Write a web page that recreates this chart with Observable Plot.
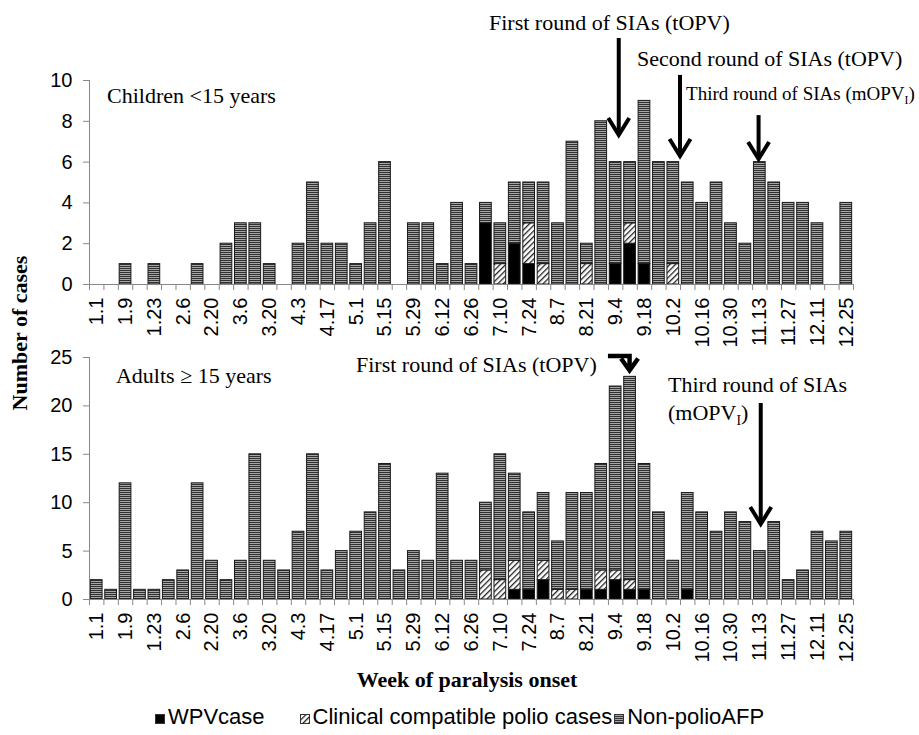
<!DOCTYPE html>
<html>
<head>
<meta charset="utf-8">
<script src="https://cdn.jsdelivr.net/npm/d3@7"></script>
<script src="https://cdn.jsdelivr.net/npm/@observablehq/plot@0.6"></script>
<style>
  body { margin: 0; background: #fff; }
  #wrap { position: relative; width: 919px; height: 735px; overflow: hidden; font-family: "Liberation Sans", Arial, sans-serif; }
  #top, #bottom, #overlay { position: absolute; left: 0; }
  #top { top: 0; }
  #bottom { top: 344px; }
  #overlay { top: 0; pointer-events: none; }
  #legend { position: absolute; left: 155px; top: 706px; font-size: 22px; line-height: 22px; white-space: nowrap; color: #000; }
  #legend span.item { display: inline-block; }
  #legend svg { vertical-align: baseline; margin-right: 3px; }
</style>
</head>
<body>
<svg width="0" height="0" style="position:absolute">
  <defs>
    <pattern id="np" width="4" height="2" patternUnits="userSpaceOnUse">
      <rect width="4" height="2" fill="#a6a6a6"></rect>
      <rect width="4" height="1" fill="#303030"></rect>
    </pattern>
    <pattern id="hatch" width="4" height="4" patternUnits="userSpaceOnUse" patternTransform="rotate(45)">
      <rect width="4" height="4" fill="#fff"></rect>
      <rect width="1.3" height="4" fill="#222"></rect>
    </pattern>
  </defs>
</svg>
<div id="wrap">
  <div id="top"></div>
  <div id="bottom"></div>
  <svg id="overlay" width="919" height="735"></svg>
  <div id="legend"></div>
</div>
<script>
// ---- data ----
const weeks = ["1.1","1.2","1.9","1.16","1.23","1.30","2.6","2.13","2.20","2.27","3.6","3.13","3.20","3.27","4.3","4.10","4.17","4.24","5.1","5.8","5.15","5.22","5.29","6.5","6.12","6.19","6.26","7.3","7.10","7.17","7.24","7.31","8.7","8.14","8.21","8.28","9.4","9.11","9.18","9.25","10.2","10.9","10.16","10.23","10.30","11.6","11.13","11.20","11.27","12.4","12.11","12.18","12.25"];

const types = ["WPVcase", "Clinical compatible polio cases", "Non-polioAFP"];

// Children < 15 years
const childWPV  = [0,0,0,0,0,0,0,0,0,0, 0,0,0,0,0,0,0,0,0,0, 0,0,0,0,0,0,0,3,0,2, 1,0,0,0,0,0,1,2,1,0, 0,0,0,0,0,0,0,0,0,0, 0,0,0];
const childClin = [0,0,0,0,0,0,0,0,0,0, 0,0,0,0,0,0,0,0,0,0, 0,0,0,0,0,0,0,0,1,0, 2,1,0,0,1,0,0,1,0,0, 1,0,0,0,0,0,0,0,0,0, 0,0,0];
const childNP   = [0,0,1,0,1,0,0,1,0,2, 3,3,1,0,2,5,2,2,1,3, 6,0,3,3,1,4,1,1,2,3, 2,4,3,7,1,8,5,3,8,6, 5,5,4,5,3,2,6,5,4,4, 3,0,4];

// Adults >= 15 years
const adultWPV  = [0,0,0,0,0,0,0,0,0,0, 0,0,0,0,0,0,0,0,0,0, 0,0,0,0,0,0,0,0,0,1, 1,2,0,0,1,1,2,1,1,0, 0,1,0,0,0,0,0,0,0,0, 0,0,0];
const adultClin = [0,0,0,0,0,0,0,0,0,0, 0,0,0,0,0,0,0,0,0,0, 0,0,0,0,0,0,0,3,2,3, 0,2,1,1,0,2,1,1,0,0, 0,0,0,0,0,0,0,0,0,0, 0,0,0];
const adultNP   = [2,1,12,1,1,2,3,12,4,2, 4,15,4,3,7,15,3,5,7,9, 14,3,5,4,13,4,4,7,13,9, 8,7,5,10,10,11,19,21,13,9, 4,10,9,7,9,8,5,8,2,3, 7,6,7];

const yTicksTop = [0, 2, 4, 6, 8, 10];
const yTicksBottom = [0, 5, 10, 15, 20, 25];

// ---- styles ----
const fills = ["#000", "url(#hatch)", "url(#np)"];
const serif = "'Liberation Serif', 'Times New Roman', serif";

function toRows(wpv, clin, np) {
  const out = [];
  weeks.forEach((w, i) => {
    [wpv[i], clin[i], np[i]].forEach((v, k) => {
      if (v > 0) out.push({i, week: w, type: types[k], value: v});
    });
  });
  return out;
}

function panel(data, yTicks, height, marginTop, marginBottom) {
  const labelPos = weeks.map((w, i) => i).filter(i => i % 2 === 0).map(i => i + 0.5);
  return Plot.plot({
    width: 919, height, marginLeft: 89, marginRight: 66, marginTop, marginBottom,
    style: {fontFamily: "'Liberation Sans', Arial, sans-serif", fontSize: "20px", color: "#000", background: "transparent", overflow: "visible"},
    x: {type: "linear", domain: [0, weeks.length], label: null},
    y: {domain: [0, d3.max(yTicks)], label: null},
    color: {type: "ordinal", domain: types, range: fills},
    marks: [
      Plot.rectY(data, {x: "i", interval: 1, y: "value", fill: "type", stroke: "#1a1a1a", strokeWidth: 1, insetLeft: 1.35, insetRight: 1.35}),
      Plot.ruleX([0], {stroke: "#888"}),
      Plot.ruleY([0], {stroke: "#888"}),
      Plot.axisY({ticks: yTicks, tickSize: 6, tickPadding: 11, stroke: "#888", fill: "#000", label: null, fontSize: 20}),
      Plot.axisX({ticks: d3.range(0, weeks.length + 1), tickSize: 6, tickFormat: () => "", stroke: "#888", label: null}),
      Plot.axisX({ticks: labelPos, tickFormat: v => weeks[Math.round(v - 0.5)], tickRotate: -90, tickSize: 0, tickPadding: 13, fill: "#000", label: null, fontSize: 20})
    ]
  });
}

function addText(g, x, y, parts, size, weight) {
  const t = g.append("text").attr("x", x).attr("y", y).attr("text-anchor", "start")
    .style("font-family", serif).style("font-size", size + "px").style("font-weight", weight || "normal").attr("fill", "#000");
  parts.forEach(p => {
    const s = t.append("tspan").text(p.text);
    if (p.sub) s.attr("dy", size * 0.22).style("font-size", (size * 0.62) + "px");
    if (p.unsub) s.attr("dy", -size * 0.22);
  });
  return t;
}

function addArrow(g, x, y1, y2, w, hw, hh) {
  g.append("path").attr("d", `M${x},${y1}V${y2 - 3}`).attr("stroke", "#000").attr("stroke-width", w).attr("fill", "none");
  g.append("path").attr("d", `M${x - hw},${y2 - hh - 3}L${x},${y2 - 3}L${x + hw},${y2 - hh - 3}`)
    .attr("stroke", "#000").attr("stroke-width", w).attr("fill", "none").attr("stroke-linejoin", "miter");
}

// ---- top panel ----
const topPlot = panel(toRows(childWPV, childClin, childNP), yTicksTop, 344, 80, 60);
document.getElementById("top").appendChild(topPlot);
{
  const sx = topPlot.scale("x"), sy = topPlot.scale("y");
  const X = v => sx.apply(v), Y = v => sy.apply(v);
  const g = d3.select(topPlot).append("g");
  addText(g, X(1.25), Y(8.87), [{text: "Children <15 years"}], 22);
  addText(g, X(27.75), Y(12.45), [{text: "First round of SIAs (tOPV)"}], 22);
  addText(g, X(38.02), Y(10.69), [{text: "Second round of SIAs (tOPV)"}], 22);
  addText(g, X(41.42), Y(9.02), [{text: "Third round of SIAs (mOPV"}, {text: "I", sub: true}, {text: ")", unsub: true}], 19);
  addArrow(g, X(36.75), Y(12.06), Y(7.16), 4, 10.5, 17);
  addArrow(g, X(41.0), Y(10.25), Y(6.13), 4, 10.5, 17);
  addArrow(g, X(46.45), Y(8.28), Y(5.98), 4, 10.5, 17);
}

// ---- bottom panel ----
const botPlot = panel(toRows(adultWPV, adultClin, adultNP), yTicksBottom, 311, 13, 56);
document.getElementById("bottom").appendChild(botPlot);
{
  const sx = botPlot.scale("x"), sy = botPlot.scale("y");
  const X = v => sx.apply(v), Y = v => sy.apply(v);
  const g = d3.select(botPlot).append("g");
  addText(g, X(1.87), Y(22.3), [{text: "Adults ≥ 15 years"}], 22);
  addText(g, X(18.52), Y(23.45), [{text: "First round of SIAs (tOPV)"}], 22);
  // bent arrow
  const bx0 = X(36.0), bx1 = X(37.5), by0 = Y(25.1), by1 = Y(23.3);
  g.append("path").attr("d", `M${bx0},${by0}H${bx1}V${by1 - 3}`).attr("stroke", "#000").attr("stroke-width", 4.5).attr("fill", "none");
  g.append("path").attr("d", `M${bx1 - 8.5},${by1 - 15}L${bx1},${by1 - 3}L${bx1 + 8.5},${by1 - 15}`).attr("stroke", "#000").attr("stroke-width", 4.5).attr("fill", "none");
  addText(g, X(40.17), Y(21.4), [{text: "Third round of SIAs"}], 22);
  addText(g, X(40.17), Y(18.5), [{text: "(mOPV"}, {text: "I", sub: true}, {text: ")", unsub: true}], 22);
  addArrow(g, X(46.6), Y(20.25), Y(7.44), 4, 10.5, 17);
}

// ---- global titles ----
const ov = d3.select("#overlay");
ov.append("text").attr("transform", "translate(27,333) rotate(-90)").attr("text-anchor", "middle")
  .style("font-family", serif).style("font-size", "22px").style("font-weight", "bold").text("Number of cases");
ov.append("text").attr("x", 467).attr("y", 687).attr("text-anchor", "middle")
  .style("font-family", serif).style("font-size", "22px").style("font-weight", "bold").text("Week of paralysis onset");

// ---- legend ----
const legend = d3.select("#legend");
const gaps = [35, 2, 0];
types.forEach((t, k) => {
  const item = legend.append("span").attr("class", "item").style("margin-right", gaps[k] + "px");
  const sw = item.append("svg").attr("width", 10).attr("height", 10);
  sw.append("rect").attr("x", 0.5).attr("y", 0.5).attr("width", 9).attr("height", 9).attr("fill", fills[k]).attr("stroke", "#333").attr("stroke-width", 1);
  item.append("span").text(t);
});
</script>
</body>
</html>
